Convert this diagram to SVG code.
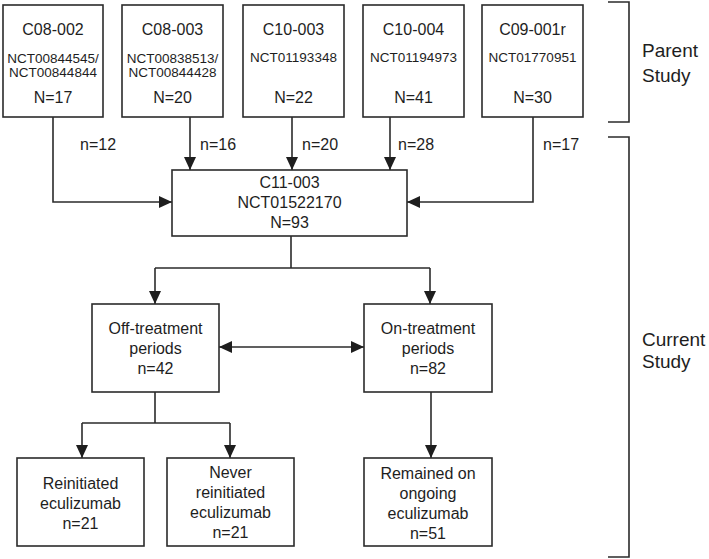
<svg xmlns="http://www.w3.org/2000/svg" width="709" height="559" viewBox="0 0 709 559">
<defs>
<style>
.box{fill:#fff;stroke:#2b2b2b;stroke-width:1.6}
.ln{fill:none;stroke:#2b2b2b;stroke-width:1.6}
text{font-family:"Liberation Sans",Arial,sans-serif;fill:#1e1e1e;text-anchor:middle}
.t{font-size:16px}
.s{font-size:13.5px}
.lab{font-size:16px;text-anchor:start}
.br{font-size:19px;text-anchor:start}
</style>
<marker id="ah" markerUnits="userSpaceOnUse" markerWidth="13" markerHeight="12" refX="13" refY="6" orient="auto-start-reverse">
<path d="M0,0 L13,6 L0,12 z" fill="#1e1e1e"/>
</marker>
</defs>
<rect width="709" height="559" fill="#fff"/>

<g id="connectors">
<path class="ln" d="M53,117 V202 H172" marker-end="url(#ah)"/>
<path class="ln" d="M190,117 V170" marker-end="url(#ah)"/>
<path class="ln" d="M292,117 V170" marker-end="url(#ah)"/>
<path class="ln" d="M390,117 V170" marker-end="url(#ah)"/>
<path class="ln" d="M533,117 V202 H407" marker-end="url(#ah)"/>
<path class="ln" d="M291,236 V268 M155,268 H430"/>
<path class="ln" d="M155,268 V304" marker-end="url(#ah)"/>
<path class="ln" d="M430,268 V304" marker-end="url(#ah)"/>
<path class="ln" d="M219,347 H364" marker-start="url(#ah)" marker-end="url(#ah)"/>
<path class="ln" d="M155,392 V423 M82,423 H230"/>
<path class="ln" d="M82,423 V458" marker-end="url(#ah)"/>
<path class="ln" d="M230,423 V458" marker-end="url(#ah)"/>
<path class="ln" d="M431,392 V458" marker-end="url(#ah)"/>
<text class="lab" x="80" y="150">n=12</text>
<text class="lab" x="200" y="150">n=16</text>
<text class="lab" x="302" y="150">n=20</text>
<text class="lab" x="398" y="150">n=28</text>
<text class="lab" x="543" y="150">n=17</text>
</g>

<g id="c08-002">
<rect class="box" x="3" y="5" width="100" height="112"/>
<text class="t" x="53" y="35">C08-002</text>
<text class="s" x="53" y="63">NCT00844545/</text>
<text class="s" x="53" y="77">NCT00844844</text>
<text class="t" x="53" y="103">N=17</text>
</g>
<g id="c08-003">
<rect class="box" x="122" y="5" width="101" height="112"/>
<text class="t" x="172.5" y="35">C08-003</text>
<text class="s" x="172.5" y="63">NCT00838513/</text>
<text class="s" x="172.5" y="77">NCT00844428</text>
<text class="t" x="172.5" y="103">N=20</text>
</g>
<g id="c10-003">
<rect class="box" x="243" y="5" width="101" height="112"/>
<text class="t" x="293.5" y="35">C10-003</text>
<text class="s" x="293.5" y="62">NCT01193348</text>
<text class="t" x="293.5" y="103">N=22</text>
</g>
<g id="c10-004">
<rect class="box" x="363" y="5" width="101" height="112"/>
<text class="t" x="413.5" y="35">C10-004</text>
<text class="s" x="413.5" y="62">NCT01194973</text>
<text class="t" x="413.5" y="103">N=41</text>
</g>
<g id="c09-001r">
<rect class="box" x="482" y="5" width="101" height="112"/>
<text class="t" x="532.5" y="35">C09-001r</text>
<text class="s" x="532.5" y="62">NCT01770951</text>
<text class="t" x="532.5" y="103">N=30</text>
</g>

<g id="c11-003">
<rect class="box" x="172" y="170" width="235" height="66"/>
<text class="t" x="289.5" y="188">C11-003</text>
<text class="t" x="289.5" y="208">NCT01522170</text>
<text class="t" x="289.5" y="228">N=93</text>
</g>

<g id="off-treatment">
<rect class="box" x="92" y="304" width="127" height="88"/>
<text class="t" x="155.5" y="334">Off-treatment</text>
<text class="t" x="155.5" y="354">periods</text>
<text class="t" x="155.5" y="374">n=42</text>
</g>
<g id="on-treatment">
<rect class="box" x="364" y="304" width="128" height="88"/>
<text class="t" x="428" y="334">On-treatment</text>
<text class="t" x="428" y="354">periods</text>
<text class="t" x="428" y="374">n=82</text>
</g>

<g id="reinitiated">
<rect class="box" x="17" y="458" width="127" height="88"/>
<text class="t" x="80.5" y="489">Reinitiated</text>
<text class="t" x="80.5" y="509">eculizumab</text>
<text class="t" x="80.5" y="529">n=21</text>
</g>
<g id="never-reinitiated">
<rect class="box" x="167" y="458" width="127" height="88"/>
<text class="t" x="230.5" y="478">Never</text>
<text class="t" x="230.5" y="498">reinitiated</text>
<text class="t" x="230.5" y="518">eculizumab</text>
<text class="t" x="230.5" y="538">n=21</text>
</g>
<g id="remained">
<rect class="box" x="364" y="458" width="128" height="88"/>
<text class="t" x="428" y="479">Remained on</text>
<text class="t" x="428" y="499">ongoing</text>
<text class="t" x="428" y="519">eculizumab</text>
<text class="t" x="428" y="539">n=51</text>
</g>

<g id="parent-study">
<path class="ln" d="M608,2 H629 V122 H608"/>
<text class="br" x="642" y="57">Parent</text>
<text class="br" x="642" y="82">Study</text>
</g>
<g id="current-study">
<path class="ln" d="M608,137 H629 V557 H608"/>
<text class="br" x="642" y="346">Current</text>
<text class="br" x="642" y="368">Study</text>
</g>
</svg>
